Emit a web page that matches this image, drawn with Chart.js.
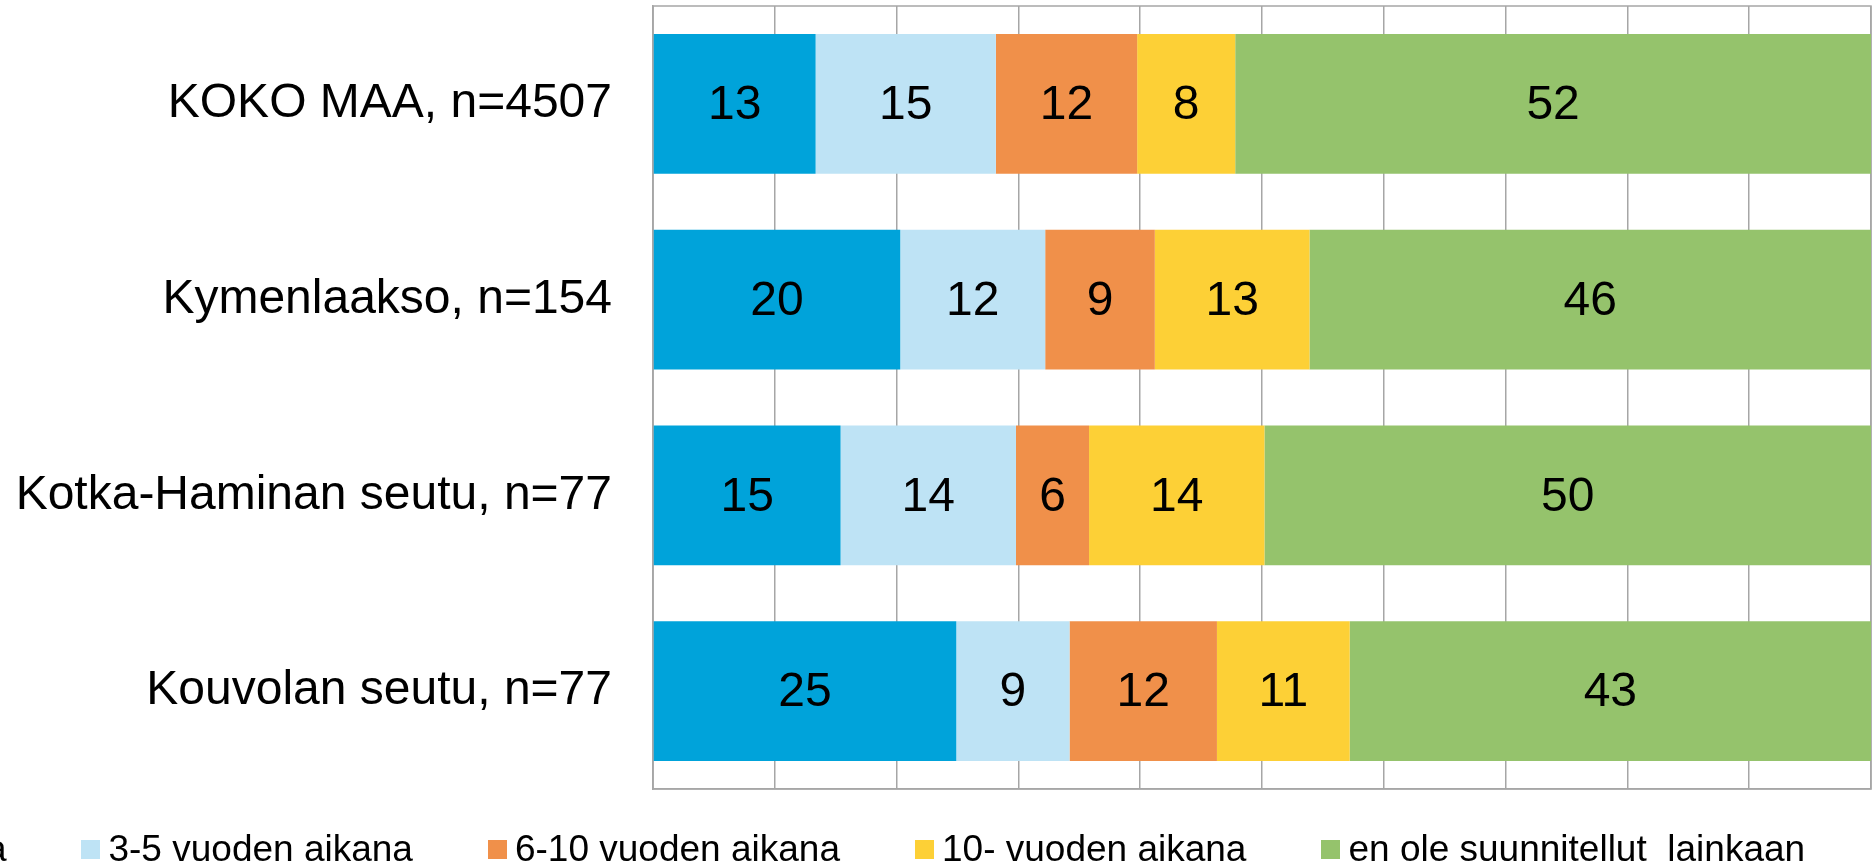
<!DOCTYPE html>
<html>
<head>
<meta charset="utf-8">
<script src="https://cdn.jsdelivr.net/npm/chart.js@4/dist/chart.umd.min.js"></script>
<style>
    html, body { margin: 0; padding: 0; background: #fff; overflow: hidden; }
    #wrap { position: relative; width: 1875px; height: 866px; overflow: hidden; }
    #legend {
        position: absolute; left: -325px; top: 828px;
        display: flex; align-items: center; gap: 75px;
        font-family: 'Liberation Sans', Arial, sans-serif; font-size: 37px; line-height: 42px;
        color: #000; white-space: nowrap;
    }
    #legend .item { display: flex; align-items: center; }
    #legend .box { width: 19px; height: 19px; margin-right: 8px; }
</style>
</head>
<body>
<div id="wrap">
    <canvas id="myChart" width="1875" height="866"></canvas>
    <div id="legend"></div>
</div>
<script>
const categories = ['KOKO MAA, n=4507', 'Kymenlaakso, n=154', 'Kotka-Haminan seutu, n=77', 'Kouvolan seutu, n=77'];
const seriesNames = ['1-2 vuoden aikana', '3-5 vuoden aikana', '6-10 vuoden aikana', '10- vuoden aikana', 'en ole suunnitellut  lainkaan'];
const seriesColors = ['#00A3DA', '#BEE3F5', '#F0904A', '#FDD036', '#95C36C'];

const within1to2 = [13.35, 20.3, 15.4, 24.9];
const within3to5 = [14.8, 11.9, 14.4, 9.3];
const within6to10 = [11.6, 9.0, 6.0, 12.1];
const over10 = [8.05, 12.7, 14.4, 10.9];
const notPlanned = [52.2, 46.1, 49.8, 42.8];

const xTicks = [0, 10, 20, 30, 40, 50, 60, 70, 80, 90, 100];

const seriesValues = [within1to2, within3to5, within6to10, over10, notPlanned];
const fontFamily = "'Liberation Sans', Arial, sans-serif";

// values written in the middle of each segment
const valueLabels = {
    id: 'valueLabels',
    afterDatasetsDraw(chart) {
        const c = chart.ctx;
        c.save();
        c.font = `48px ${fontFamily}`;
        c.fillStyle = '#000';
        c.textAlign = 'center';
        c.textBaseline = 'middle';
        chart.data.datasets.forEach((ds, i) => {
            chart.getDatasetMeta(i).data.forEach((bar, j) => {
                const p = bar.getCenterPoint();
                c.fillText(Math.round(ds.data[j]), p.x, p.y + 2);
            });
        });
        c.restore();
    }
};

// grey frame round the plot area
const plotFrame = {
    id: 'plotFrame',
    beforeDatasetsDraw(chart) {
        const a = chart.chartArea;
        const c = chart.ctx;
        c.save();
        c.strokeStyle = '#A6A6A6';
        c.lineWidth = 1.5;
        c.strokeRect(a.left, a.top, a.right - a.left, a.bottom - a.top);
        c.restore();
    }
};

new Chart(document.getElementById('myChart'), {
    type: 'bar',
    data: {
        labels: categories,
        datasets: seriesNames.map((name, i) => ({
            label: name,
            data: seriesValues[i],
            backgroundColor: seriesColors[i],
            borderWidth: 0,
            barPercentage: 0.715,
            categoryPercentage: 1
        }))
    },
    options: {
        indexAxis: 'y',
        responsive: false,
        animation: false,
        layout: { padding: { top: 6, right: 4, bottom: 77, left: 0 } },
        scales: {
            x: {
                stacked: true,
                min: 0,
                max: 100,
                afterBuildTicks: scale => { scale.ticks = xTicks.map(v => ({ value: v })); },
                ticks: { display: false },
                grid: { color: '#A6A6A6', lineWidth: 1.5, drawTicks: false },
                border: { display: true, color: '#A6A6A6', width: 1.5 }
            },
            y: {
                stacked: true,
                afterFit: scale => {
                    scale.width = 653;
                    scale.paddingTop = 0;
                    scale.paddingBottom = 0;
                },
                ticks: {
                    color: '#000',
                    padding: 41,
                    font: { family: fontFamily, size: 48 }
                },
                grid: { display: false, drawTicks: false },
                border: { display: true, color: '#A6A6A6', width: 1.5 }
            }
        },
        plugins: {
            legend: { display: false },
            tooltip: { enabled: false }
        }
    },
    plugins: [plotFrame, valueLabels]
});

// legend row (the first entry runs off the left edge, as in the original)
const legendEl = document.getElementById('legend');
legendEl.innerHTML = seriesNames.map((name, i) =>
    `<div class="item"><span class="box" style="background:${seriesColors[i]}"></span><span>${name.replace(/  /g, ' &nbsp;')}</span></div>`
).join('');
</script>
</body>
</html>
